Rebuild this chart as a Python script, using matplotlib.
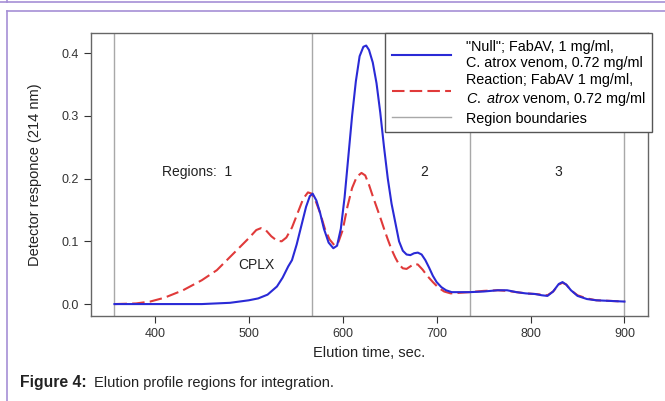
import matplotlib
matplotlib.use("Agg")
import matplotlib.pyplot as plt
from matplotlib.lines import Line2D

plt.rcParams['font.family'] = ['Liberation Sans', 'DejaVu Sans']
plt.rcParams['mathtext.fontset'] = 'custom'
plt.rcParams['mathtext.rm'] = 'Liberation Sans'
plt.rcParams['mathtext.it'] = 'Liberation Sans:italic'

# --- data ---
t_null = [357, 400, 450, 480, 500, 510, 520, 530, 536, 542, 546, 551, 556, 561, 565, 568,
          572, 576, 580, 585, 590, 594, 598, 602, 606, 610, 614, 618, 622, 625, 628, 632,
          636, 640, 644, 648, 652, 656, 660, 664, 668, 672, 676, 680, 684, 688, 692, 696,
          700, 705, 710, 716, 725, 735, 750, 765, 775, 785, 795, 805, 812, 818, 824, 830,
          834, 838, 843, 850, 860, 870, 885, 900]
null_resp = [0.0, 0.0, 0.0, 0.002, 0.006, 0.009, 0.015, 0.028, 0.042, 0.06, 0.07, 0.095, 0.125, 0.155, 0.172, 0.176,
             0.165, 0.145, 0.12, 0.098, 0.089, 0.093, 0.12, 0.17, 0.235, 0.3, 0.355, 0.395, 0.41, 0.412, 0.405, 0.385,
             0.352, 0.305, 0.25, 0.2, 0.16, 0.13, 0.1, 0.085, 0.079, 0.078, 0.081, 0.082, 0.079, 0.07, 0.058, 0.045,
             0.035, 0.027, 0.022, 0.019, 0.019, 0.019, 0.02, 0.022, 0.022, 0.019, 0.017, 0.016, 0.014, 0.013, 0.02, 0.032,
             0.035, 0.031, 0.022, 0.013, 0.008, 0.006, 0.005, 0.004]

t_rxn = [357, 380, 395, 410, 430, 450, 466, 480, 490, 500, 508, 513, 518, 524, 530, 535,
         540, 546, 552, 558, 563, 567, 571, 576, 581, 586, 591, 595, 600, 605, 610, 615,
         620, 624, 628, 632, 636, 640, 644, 648, 652, 656, 660, 664, 668, 672, 676, 680,
         685, 690, 696, 702, 708, 715, 725, 735, 750, 765, 775, 785, 795, 805, 812, 818,
         824, 830, 834, 838, 843, 850, 860, 870, 885, 900]
rxn_resp = [0.0, 0.001, 0.004, 0.01, 0.022, 0.038, 0.054, 0.075, 0.09, 0.105, 0.118, 0.121, 0.118, 0.108, 0.101, 0.1,
            0.106, 0.122, 0.145, 0.168, 0.178, 0.176, 0.165, 0.145, 0.12, 0.103, 0.094, 0.097, 0.118, 0.155, 0.185, 0.203,
            0.209, 0.205, 0.19, 0.172, 0.155, 0.138, 0.12, 0.103, 0.087, 0.074, 0.063, 0.057, 0.056, 0.06, 0.064, 0.063,
            0.055, 0.045, 0.035, 0.026, 0.02, 0.017, 0.018, 0.019, 0.021, 0.022, 0.021, 0.019, 0.017, 0.016, 0.015, 0.014,
            0.02, 0.031, 0.034, 0.031, 0.022, 0.014, 0.009, 0.006, 0.005, 0.004]

boundaries = [357, 567, 735, 900]
region_names = ["Regions:  1", "2", "3"]
region_x = [408, 687, 829]

fig = plt.figure(figsize=(6.65, 4.01), dpi=100)
ax = fig.add_axes([0.1368, 0.212, 0.8376, 0.7057])

for b in boundaries:
    ax.axvline(b, color='#a8a8a8', lw=1.0, zorder=1)
ax.plot(t_null, null_resp, color='#2a2ad6', lw=1.5, zorder=3,
        label='"Null"; FabAV, 1 mg/ml,\nC. atrox venom, 0.72 mg/ml')
ax.plot(t_rxn, rxn_resp, color='#e03a3a', lw=1.5, dashes=(6, 2.5), zorder=2,
        label='Reaction; FabAV 1 mg/ml,\n$\\mathit{C.}$ $\\mathit{atrox}$ venom, 0.72 mg/ml')
ax.plot([], [], color='#a8a8a8', lw=1.0, label='Region boundaries')

ax.text(region_x[0], 0.21, region_names[0], fontsize=10, ha='left', va='center', color='#222222')
for x, name in zip(region_x[1:], region_names[1:]):
    ax.text(x, 0.21, name, fontsize=10, ha='center', va='center', color='#222222')
ax.text(508, 0.062, "CPLX", fontsize=10, ha='center', va='center', color='#222222')

ax.set_xlim(332, 925)
ax.set_ylim(-0.019, 0.432)
ax.set_xticks([400, 500, 600, 700, 800, 900])
ax.set_yticks([0.0, 0.1, 0.2, 0.3, 0.4])
ax.set_yticklabels(["0.0", "0.1", "0.2", "0.3", "0.4"])
ax.tick_params(labelsize=9, colors='#333333', length=5, width=0.8, pad=4)
for s in ax.spines.values():
    s.set_color('#666666')
    s.set_linewidth(1.0)
ax.set_xlabel("Elution time, sec.", fontsize=10.5, color='#222222', labelpad=4)
ax.set_ylabel("Detector responce (214 nm)", fontsize=10.5, color='#222222', labelpad=14)

leg = ax.legend(loc='upper right', bbox_to_anchor=(1.007, 1.0), borderaxespad=0,
                fontsize=10.4, handlelength=4.1, handletextpad=1.0, labelspacing=0.25,
                fancybox=False, edgecolor='#555555', framealpha=1, borderpad=0.45)
leg.get_frame().set_linewidth(1.0)
leg.set_zorder(5)

# page frame lines
purple = '#a58fd6'
fig.add_artist(Line2D([0, 1], [1 - 2 / 401, 1 - 2 / 401], color=purple, lw=1.2))
fig.add_artist(Line2D([7 / 665, 1], [1 - 11 / 401, 1 - 11 / 401], color=purple, lw=1.2))
fig.add_artist(Line2D([7 / 665, 7 / 665], [0, 1 - 11 / 401], color=purple, lw=1.2))
fig.add_artist(Line2D([7 / 665, 7 / 665], [1 - 2 / 401, 1], color=purple, lw=1.2))

fig.text(20 / 665, 1 - 383 / 401, "Figure 4:", fontsize=11.3, fontweight='bold',
         ha='left', va='center', color='#222222')
fig.text(94 / 665, 1 - 383 / 401, "Elution profile regions for integration.", fontsize=10.5,
         ha='left', va='center', color='#222222')

fig.savefig("out.png", dpi=100)
